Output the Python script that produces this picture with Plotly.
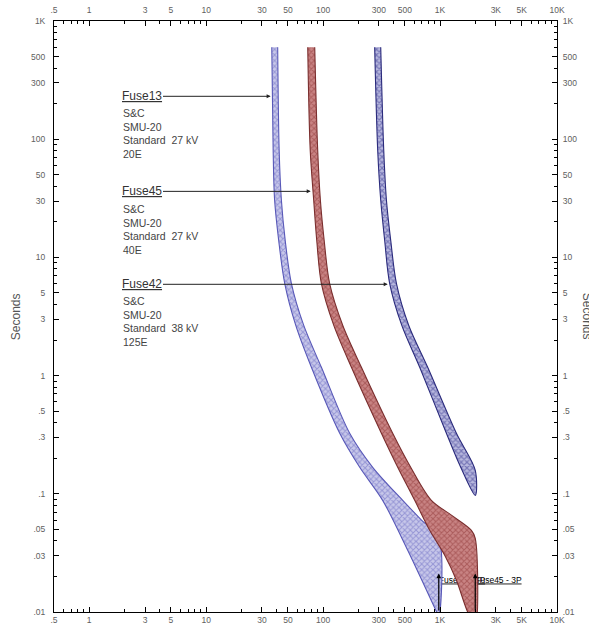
import math
import plotly.graph_objects as go

# Fuse time-current characteristics (amps, seconds), top to bottom.
fuse13_melt_amps = [36.4, 37.4, 38.5, 41.7, 47.0, 58.3, 79.4, 138.7, 205.6, 323, 529, 936, 975]
fuse13_melt_secs = [600, 80.5, 30.4, 13.95, 6.0, 2.67, 1.175, 0.325, 0.1676, 0.088, 0.0333, 0.010, 0.0092]
fuse13_clear_amps = [40.9, 42.1, 44.0, 47.4, 53.6, 68.2, 96.7, 168.8, 265.5, 479.5, 697, 975]
fuse13_clear_secs = [600, 80.5, 30.4, 13.95, 6.0, 2.67, 1.175, 0.325, 0.1676, 0.088, 0.0597, 0.0428]

fuse45_melt_amps = [73.9, 77.6, 83.1, 88.2, 96.7, 123.2, 174.6, 315, 434.5, 607, 815.5, 1096, 1380, 1723, 2000]
fuse45_melt_secs = [600, 80.5, 30.4, 13.95, 6.0, 2.67, 1.175, 0.325, 0.1676, 0.088, 0.0491, 0.0302, 0.01855, 0.010, 0.0078]
fuse45_clear_amps = [84.8, 89.9, 94.8, 102.1, 113.8, 147.1, 212.6, 393.6, 561, 843, 1250, 1854, 2000]
fuse45_clear_secs = [600, 80.5, 30.4, 13.95, 6.0, 2.67, 1.175, 0.325, 0.1676, 0.088, 0.066, 0.0491, 0.042]

fuse42_melt_amps = [276, 293, 311, 336, 371, 470, 670, 1133, 1502, 2000]
fuse42_melt_secs = [600, 80.5, 30.4, 13.95, 6.0, 2.67, 1.175, 0.325, 0.1676, 0.097]
fuse42_clear_amps = [311, 330, 348, 378.5, 424, 539, 784, 1380, 2000]
fuse42_clear_secs = [600, 80.5, 30.4, 13.95, 6.0, 2.67, 1.175, 0.325, 0.158]

# Labelled curves: name, description lines, arrow target (amps, seconds)
fuse_names = ["Fuse13", "Fuse45", "Fuse42"]
fuse_descriptions = [
    ["S&C", "SMU-20", "Standard  27 kV", "20E"],
    ["S&C", "SMU-20", "Standard  27 kV", "40E"],
    ["S&C", "SMU-20", "Standard  38 kV", "125E"],
]
fuse_arrow_amps = [35.6, 78.3, 356.6]
fuse_arrow_secs = [230.6, 36.2, 5.92]

# Three-phase fault currents
fault_labels = ["Fuse13 - 3P", "Fuse45 - 3P"]
fault_amps = [975, 2000]
fault_arrow_secs = [0.01, 0.0212]
fault_label_secs = 0.0185

# Axis ticks
x_tickvals = [0.5, 1, 3, 5, 10, 30, 50, 100, 300, 500, 1000, 3000, 5000, 10000]
x_ticktext = [".5", "1", "3", "5", "10", "30", "50", "100", "300", "500", "1K", "3K", "5K", "10K"]
y_tickvals = [0.01, 0.03, 0.05, 0.1, 0.3, 0.5, 1, 3, 5, 10, 30, 50, 100, 300, 500, 1000]
y_ticktext = [".01", ".03", ".05", ".1", ".3", ".5", "1", "3", "5", "10", "30", "50", "100", "300", "500", "1K"]

x_range = [math.log10(0.5), 4]
y_range = [-2, 3]

x_minor = [m * 10 ** e for e in range(-1, 4) for m in range(1, 10) if 0.5 <= m * 10 ** e <= 10000]
y_minor = [m * 10 ** e for e in range(-2, 3) for m in range(1, 10) if 0.01 <= m * 10 ** e <= 1000] + [1000]

FONT = "Arial, Liberation Sans, sans-serif"

fig = go.Figure()

# Fault-current labels go underneath the bands
for label, amps in zip(fault_labels, fault_amps):
    fig.add_trace(go.Scatter(
        x=[amps], y=[fault_label_secs], mode="text",
        text=[f"<u>{label}</u>"], textposition="middle right",
        textfont=dict(family=FONT, size=8.5, color="black"),
        hoverinfo="skip", showlegend=False,
    ))


def band(melt_a, melt_s, clear_a, clear_s, line_color, bg, fg, solidity):
    return go.Scatter(
        x=list(melt_a) + list(reversed(clear_a)),
        y=list(melt_s) + list(reversed(clear_s)),
        mode="lines", fill="toself",
        line=dict(color=line_color, width=1.1, shape="spline", smoothing=0.9),
        fillcolor=bg,
        fillpattern=dict(shape="x", bgcolor=bg, fgcolor=fg, size=4, solidity=solidity),
        hoverinfo="skip", showlegend=False,
    )


fig.add_trace(band(fuse13_melt_amps, fuse13_melt_secs, fuse13_clear_amps, fuse13_clear_secs,
                   "#5858b8", "#c8c8ea", "#6464c0", 0.45))
fig.add_trace(band(fuse45_melt_amps, fuse45_melt_secs, fuse45_clear_amps, fuse45_clear_secs,
                   "#7a2e2e", "#c98484", "#8c3434", 0.45))
fig.add_trace(band(fuse42_melt_amps, fuse42_melt_secs, fuse42_clear_amps, fuse42_clear_secs,
                   "#2a2a7c", "#b8b8de", "#3a3a92", 0.5))

# Invisible anchors so the mirrored top and right axes are drawn
fig.add_trace(go.Scatter(x=[x_tickvals[0]], y=[y_tickvals[0]], xaxis="x2", yaxis="y",
                         mode="markers", marker=dict(opacity=0), hoverinfo="skip", showlegend=False))
fig.add_trace(go.Scatter(x=[x_tickvals[0]], y=[y_tickvals[0]], xaxis="x", yaxis="y2",
                         mode="markers", marker=dict(opacity=0), hoverinfo="skip", showlegend=False))

annotations = []

# Fuse name labels with arrows pointing at their curves
text_center_px = 141.5
plot_left_px = 54
px_per_decade = 503 / (x_range[1] - x_range[0])
for name, amps, secs in zip(fuse_names, fuse_arrow_amps, fuse_arrow_secs):
    tip_px = plot_left_px + (math.log10(amps) - x_range[0]) * px_per_decade
    annotations.append(dict(
        x=math.log10(amps), y=math.log10(secs), xref="x", yref="y",
        text=f"<u>{name}</u>", showarrow=True, ax=text_center_px - tip_px, ay=0,
        arrowhead=2, arrowsize=0.8, arrowwidth=1, arrowcolor="#222",
        font=dict(family=FONT, size=12, color="#333"),
    ))

# Description blocks under each name
desc_tops = [0.8574, 0.6949, 0.5393]
for lines, top in zip(fuse_descriptions, desc_tops):
    annotations.append(dict(
        x=0.1326, y=top, xref="paper", yref="paper",
        xanchor="left", yanchor="top", align="left", showarrow=False,
        text="<br>".join(l.replace("&", "&amp;") for l in lines),
        font=dict(family=FONT, size=10.5, color="#444"),
    ))

# Vertical arrows at the fault currents
for amps in fault_amps:
    annotations.append(dict(
        x=math.log10(amps), y=math.log10(fault_arrow_secs[1]), xref="x", yref="y",
        ax=math.log10(amps), ay=math.log10(fault_arrow_secs[0]), axref="x", ayref="y",
        text="", showarrow=True, arrowhead=2, arrowsize=0.8, arrowwidth=1.2, arrowcolor="black",
    ))

# Axis titles
annotations.append(dict(x=-0.0761, y=0.5, xref="paper", yref="paper", text="Seconds",
                        textangle=-90, showarrow=False, xanchor="center", yanchor="middle",
                        font=dict(family=FONT, size=12, color="#555")))
annotations.append(dict(x=1.061, y=0.5, xref="paper", yref="paper", text="Seconds",
                        textangle=90, showarrow=False, xanchor="center", yanchor="middle",
                        font=dict(family=FONT, size=12, color="#555")))


def axis(tickvals, ticktext, rng, minor_vals, **extra):
    d = dict(
        type="log", range=rng, autorange=False,
        tickmode="array", tickvals=tickvals, ticktext=ticktext,
        ticks="inside", ticklen=5, tickwidth=1, tickcolor="black",
        showline=True, linecolor="black", linewidth=1,
        showgrid=False, zeroline=False, automargin=False,
        tickfont=dict(family=FONT, size=8.5, color="#606060"),
        minor=dict(tickvals=minor_vals, ticks="inside", ticklen=3, tickcolor="black",
                   tickwidth=1, showgrid=False),
    )
    d.update(extra)
    return d


fig.update_layout(
    width=589, height=625,
    margin=dict(l=54, r=32, t=21, b=13),
    paper_bgcolor="white", plot_bgcolor="white",
    showlegend=False,
    xaxis=axis(x_tickvals, x_ticktext, x_range, x_minor, side="bottom"),
    yaxis=axis(y_tickvals, y_ticktext, y_range, y_minor, side="left", ticklabelstandoff=6),
    xaxis2=axis(x_tickvals, x_ticktext, x_range, x_minor, side="top", overlaying="x",
                anchor="y", ticklabelstandoff=4),
    yaxis2=axis(y_tickvals, y_ticktext, y_range, y_minor, side="right", overlaying="y",
                anchor="x", ticklabelstandoff=3),
    annotations=annotations,
)

fig.write_html("out.html")
